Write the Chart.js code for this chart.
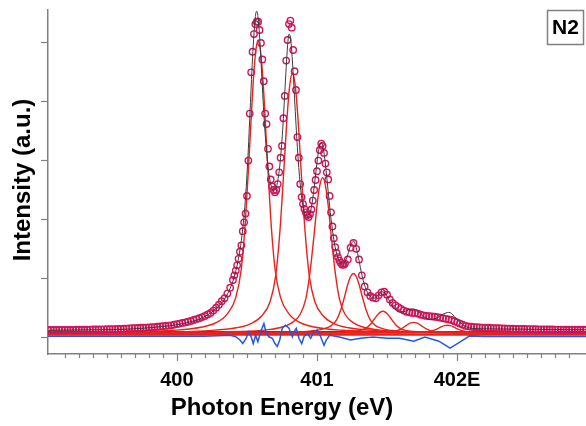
<!DOCTYPE html>
<html>
<head>
<meta charset="utf-8">
<script src="https://cdn.jsdelivr.net/npm/chart.js@4.4.1/dist/chart.umd.min.js"></script>
<style>
  html, body { margin: 0; padding: 0; background: #fff; }
  #wrap { width: 586px; height: 426px; }
</style>
</head>
<body>
<div id="wrap"><canvas id="spectrum" width="586" height="426"></canvas></div>
<script>
// Axis limits and ticks
const xMin = 399.08;
const xMax = 402.92;
const yMin = -0.288;
const yMax = 5.56;
const xMajorTicks = [400, 401, 402];
const xTickLabels = ['400', '401', '402E'];
const yTickValues = [0, 1, 2, 3, 4, 5];

// Measured spectrum (circles)
const dataEnergy = [
  399.08, 399.10, 399.12, 399.14, 399.16, 399.18, 399.20, 399.22, 399.24,
  399.26, 399.28, 399.30, 399.32, 399.34, 399.36, 399.38,
  399.40, 399.42, 399.44, 399.46, 399.48, 399.50, 399.52, 399.54, 399.56, 399.58,
  399.60, 399.62, 399.64, 399.66, 399.68, 399.70, 399.72, 399.74, 399.76, 399.78,
  399.80, 399.82, 399.84, 399.86, 399.88, 399.90, 399.92, 399.94, 399.96, 399.98,
  400.00, 400.02, 400.04, 400.06, 400.08, 400.10, 400.12, 400.14, 400.16, 400.18, 400.20, 400.22,
  400.24, 400.26, 400.28, 400.30, 400.32, 400.34, 400.36, 400.38,
  400.40, 400.41, 400.42, 400.43, 400.44, 400.45, 400.46, 400.47, 400.48, 400.49,
  400.50, 400.51, 400.52, 400.53, 400.54, 400.55, 400.56, 400.57, 400.58, 400.59,
  400.60, 400.61, 400.62, 400.63, 400.64, 400.65, 400.66, 400.67, 400.68, 400.69,
  400.70, 400.71, 400.72, 400.73, 400.74, 400.75, 400.76, 400.77, 400.78, 400.79,
  400.80, 400.81, 400.82, 400.83, 400.84, 400.85, 400.86, 400.87, 400.88, 400.89,
  400.90, 400.91, 400.92, 400.93, 400.94, 400.95, 400.96, 400.97, 400.98, 400.99,
  401.00, 401.01, 401.02, 401.03, 401.04, 401.05, 401.06, 401.07, 401.08, 401.09,
  401.10, 401.11, 401.12, 401.13, 401.14, 401.15, 401.16, 401.17, 401.18, 401.19, 401.20,
  401.22, 401.24, 401.26, 401.28, 401.30, 401.32, 401.34, 401.36, 401.38, 401.40,
  401.42, 401.44, 401.46, 401.48, 401.50, 401.52, 401.54, 401.56, 401.58, 401.60,
  401.62, 401.64, 401.66, 401.68, 401.70, 401.72, 401.74, 401.76, 401.78, 401.80,
  401.82, 401.84, 401.86, 401.88, 401.90, 401.92, 401.94, 401.96, 401.98, 402.00,
  402.02, 402.04, 402.06, 402.08,
  402.10, 402.12, 402.14, 402.16, 402.18, 402.20, 402.22, 402.24, 402.26, 402.28,
  402.30, 402.32, 402.34, 402.36, 402.38, 402.40, 402.42, 402.44, 402.46, 402.48,
  402.50, 402.52, 402.54, 402.56, 402.58, 402.60, 402.62, 402.64, 402.66, 402.68,
  402.70, 402.72, 402.74, 402.76, 402.78, 402.80, 402.82, 402.84, 402.86, 402.88,
  402.90, 402.92
];
const dataIntensity = [
  0.12, 0.12, 0.12, 0.12, 0.12, 0.12, 0.12, 0.12, 0.12,
  0.122, 0.124, 0.125, 0.125, 0.125, 0.126, 0.128,
  0.13, 0.13, 0.13, 0.131, 0.132, 0.134, 0.135, 0.135, 0.136, 0.138,
  0.14, 0.142, 0.145, 0.148, 0.15, 0.152, 0.155, 0.158, 0.16, 0.162,
  0.165, 0.168, 0.17, 0.175, 0.18, 0.185, 0.19, 0.195, 0.20, 0.21,
  0.22, 0.23, 0.24, 0.25, 0.26, 0.275, 0.29, 0.305, 0.32, 0.34, 0.36, 0.385,
  0.41, 0.45, 0.50, 0.55, 0.61, 0.66, 0.74, 0.84,
  0.97, 1.05, 1.13, 1.22, 1.33, 1.45, 1.56, 1.80, 1.95, 2.10,
  2.40, 3.00, 3.80, 4.50, 4.85, 5.15, 5.32, 5.36, 5.36, 5.22,
  5.00, 4.72, 4.35, 3.80, 3.62, 3.20, 2.90, 2.68, 2.56, 2.50,
  2.46, 2.50, 2.60, 2.80, 3.05, 3.25, 3.72, 4.10, 4.70, 5.05,
  5.32, 5.38, 5.26, 4.88, 4.52, 4.20, 3.40, 3.05, 2.60, 2.38,
  2.26, 2.18, 2.12, 2.07, 2.04, 2.09, 2.17, 2.32, 2.50, 2.67,
  2.82, 3.00, 3.18, 3.29, 3.25, 3.13, 2.95, 2.80, 2.68, 2.40,
  2.12, 1.88, 1.68, 1.53, 1.43, 1.36, 1.30, 1.26, 1.23, 1.23, 1.25,
  1.32, 1.52, 1.60, 1.50, 1.32, 1.05, 0.86, 0.76, 0.70, 0.67,
  0.66, 0.71, 0.76, 0.77, 0.72, 0.64, 0.58, 0.54, 0.51, 0.48,
  0.45, 0.43, 0.42, 0.41, 0.41, 0.40, 0.38, 0.37, 0.36, 0.355,
  0.35, 0.345, 0.34, 0.33, 0.32, 0.31, 0.30, 0.29, 0.27, 0.25,
  0.23, 0.21, 0.19, 0.18,
  0.175, 0.17, 0.168, 0.165, 0.162, 0.16, 0.158, 0.155, 0.152, 0.15,
  0.15, 0.148, 0.146, 0.145, 0.144, 0.142, 0.14, 0.14, 0.14, 0.138,
  0.136, 0.135, 0.135, 0.134, 0.132, 0.13, 0.13, 0.13, 0.13, 0.13,
  0.128, 0.128, 0.127, 0.126, 0.125, 0.125, 0.125, 0.125, 0.125, 0.125,
  0.125, 0.125
];

// Total fit (thin dark line)
const fitEnergy = [
  399.08, 399.30, 399.50, 399.70, 399.90, 400.00, 400.10, 400.20, 400.30, 400.35,
  400.40, 400.41, 400.42, 400.43, 400.44, 400.45, 400.46, 400.47, 400.48, 400.49,
  400.50, 400.51, 400.52, 400.53, 400.54, 400.55, 400.56, 400.57, 400.58, 400.59,
  400.60, 400.61, 400.62, 400.63, 400.64, 400.65, 400.66, 400.67, 400.68, 400.69,
  400.70, 400.71, 400.72, 400.73, 400.74, 400.75, 400.76, 400.77, 400.78, 400.79,
  400.80, 400.81, 400.82, 400.83, 400.84, 400.85, 400.86, 400.87, 400.88, 400.89,
  400.90, 400.91, 400.92, 400.93, 400.94, 400.95, 400.96, 400.97, 400.98, 400.99,
  401.00, 401.01, 401.02, 401.03, 401.04, 401.05, 401.06, 401.07, 401.08, 401.09, 401.10,
  401.12, 401.14, 401.16, 401.18, 401.20, 401.22, 401.24, 401.26, 401.28, 401.30,
  401.32, 401.34, 401.36, 401.38, 401.40, 401.42, 401.44, 401.46, 401.48, 401.50,
  401.52, 401.54, 401.56, 401.58, 401.60, 401.62, 401.64, 401.66, 401.68, 401.70,
  401.72, 401.74, 401.76, 401.78, 401.80, 401.82, 401.84, 401.86, 401.88, 401.90,
  401.92, 401.94, 401.96, 401.98, 402.00, 402.02, 402.04, 402.06, 402.08, 402.10,
  402.20, 402.40, 402.60, 402.80, 402.92
];
const fitIntensity = [
  0.115, 0.12, 0.125, 0.14, 0.18, 0.21, 0.26, 0.35, 0.53, 0.68,
  0.95, 1.03, 1.12, 1.22, 1.34, 1.48, 1.64, 1.84, 2.08, 2.38,
  2.75, 3.20, 3.72, 4.25, 4.75, 5.15, 5.45, 5.54, 5.42, 5.12,
  4.70, 4.25, 3.82, 3.45, 3.15, 2.90, 2.72, 2.60, 2.52, 2.49,
  2.50, 2.55, 2.66, 2.82, 3.05, 3.35, 3.72, 4.15, 4.58, 4.95,
  5.15, 5.10, 4.85, 4.48, 4.05, 3.62, 3.22, 2.88, 2.60, 2.38,
  2.22, 2.11, 2.05, 2.03, 2.05, 2.11, 2.21, 2.36, 2.55, 2.76,
  2.97, 3.15, 3.27, 3.31, 3.26, 3.13, 2.94, 2.71, 2.47, 2.23, 2.01,
  1.66, 1.42, 1.29, 1.24, 1.28, 1.40, 1.56, 1.63, 1.52, 1.30,
  1.06, 0.88, 0.76, 0.69, 0.66, 0.67, 0.72, 0.77, 0.76, 0.69,
  0.60, 0.52, 0.46, 0.43, 0.42, 0.43, 0.45, 0.47, 0.48, 0.47,
  0.44, 0.39, 0.35, 0.32, 0.30, 0.30, 0.31, 0.33, 0.36, 0.39,
  0.41, 0.42, 0.40, 0.35, 0.30, 0.25, 0.21, 0.18, 0.16, 0.15,
  0.14, 0.135, 0.13, 0.125, 0.125
];

// Vibrational components (red lines), one pair of arrays per peak
const componentEnergies = [
  [399.08, 399.58, 399.98, 400.18, 400.28, 400.36, 400.42, 400.46, 400.49, 400.52, 400.54, 400.56, 400.58,
   400.60, 400.62, 400.64, 400.67, 400.70, 400.74, 400.80, 400.88, 400.98, 401.18, 401.58, 402.08, 402.92],
  [399.08, 399.825, 400.225, 400.425, 400.525, 400.605, 400.665, 400.705, 400.735, 400.765, 400.785, 400.805, 400.825,
   400.845, 400.865, 400.885, 400.915, 400.945, 400.985, 401.045, 401.125, 401.225, 401.425, 401.825, 402.325, 402.92],
  [399.08, 400.04, 400.44, 400.64, 400.74, 400.82, 400.88, 400.92, 400.95, 400.98, 401.00, 401.02, 401.04,
   401.06, 401.08, 401.10, 401.13, 401.16, 401.20, 401.26, 401.34, 401.44, 401.64, 402.04, 402.54, 402.92],
  [399.08, 400.26, 400.66, 400.86, 400.96, 401.04, 401.10, 401.14, 401.17, 401.20, 401.22, 401.24, 401.26,
   401.28, 401.30, 401.32, 401.35, 401.38, 401.42, 401.48, 401.56, 401.66, 401.86, 402.26, 402.92],
  [399.08, 400.87, 401.07, 401.17, 401.25, 401.31, 401.35, 401.38, 401.41, 401.43, 401.45, 401.47,
   401.49, 401.51, 401.53, 401.56, 401.59, 401.63, 401.69, 401.77, 401.87, 402.07, 402.92],
  [399.08, 401.29, 401.39, 401.47, 401.53, 401.57, 401.60, 401.63, 401.65, 401.67, 401.69,
   401.71, 401.73, 401.75, 401.78, 401.81, 401.85, 401.91, 401.99, 402.09, 402.92],
  [399.08, 401.61, 401.71, 401.77, 401.81, 401.84, 401.87, 401.89, 401.91, 401.93,
   401.95, 401.97, 401.99, 402.02, 402.05, 402.09, 402.15, 402.25, 402.92]
];
const componentIntensities = [
  [0.077, 0.085, 0.115, 0.17, 0.244, 0.394, 0.67, 1.166, 2.01, 3.26, 4.15, 4.80, 5.05,
   4.80, 4.15, 3.26, 2.01, 1.166, 0.67, 0.394, 0.244, 0.17, 0.115, 0.085, 0.077, 0.073],
  [0.075, 0.083, 0.11, 0.158, 0.225, 0.357, 0.60, 1.04, 1.79, 2.90, 3.69, 4.27, 4.49,
   4.27, 3.69, 2.90, 1.79, 1.04, 0.60, 0.357, 0.225, 0.158, 0.11, 0.083, 0.076, 0.074],
  [0.072, 0.078, 0.094, 0.123, 0.162, 0.242, 0.387, 0.65, 1.10, 1.76, 2.235, 2.578, 2.71,
   2.578, 2.235, 1.76, 1.10, 0.65, 0.387, 0.242, 0.162, 0.123, 0.094, 0.078, 0.074, 0.072],
  [0.071, 0.073, 0.079, 0.09, 0.105, 0.136, 0.191, 0.292, 0.464, 0.716, 0.898, 1.03, 1.08,
   1.03, 0.898, 0.716, 0.464, 0.292, 0.191, 0.136, 0.105, 0.09, 0.079, 0.073, 0.071],
  [0.07, 0.073, 0.077, 0.083, 0.094, 0.114, 0.151, 0.214, 0.307, 0.373, 0.42, 0.44,
   0.42, 0.373, 0.307, 0.214, 0.151, 0.114, 0.094, 0.083, 0.077, 0.073, 0.07],
  [0.07, 0.074, 0.076, 0.082, 0.092, 0.11, 0.14, 0.185, 0.218, 0.241, 0.25,
   0.241, 0.218, 0.185, 0.14, 0.11, 0.092, 0.082, 0.076, 0.074, 0.07],
  [0.07, 0.074, 0.078, 0.086, 0.099, 0.121, 0.153, 0.177, 0.194, 0.20,
   0.194, 0.177, 0.153, 0.121, 0.099, 0.086, 0.078, 0.074, 0.07]
];

// Fit residual (blue)
const residualEnergy = [
  399.08, 399.60, 400.20, 400.38, 400.42, 400.45, 400.47, 400.495, 400.51, 400.53,
  400.545, 400.562, 400.578, 400.598, 400.621, 400.638, 400.657, 400.681, 400.70, 400.716,
  400.734, 400.752, 400.776, 400.80, 400.824, 400.836, 400.852, 400.871, 400.891, 400.907,
  400.931, 400.955, 400.979, 401.002, 401.026, 401.05, 401.066, 401.09, 401.16, 401.24,
  401.31, 401.40, 401.50, 401.59, 401.69, 401.77, 401.87, 401.95, 402.03, 402.09,
  402.20, 402.92
];
const residualIntensity = [
  0.015, 0.015, 0.015, 0.03, 0.005, -0.05, -0.11, -0.02, 0.09, 0.005,
  -0.11, 0.03, -0.08, 0.09, 0.23, 0.06, 0.005, -0.02, -0.11, -0.16,
  -0.05, 0.15, 0.20, 0.15, 0.005, 0.09, 0.15, -0.02, -0.11, 0.005,
  0.06, -0.02, 0.09, 0.12, 0.005, -0.14, -0.05, 0.03, 0.0, -0.05,
  -0.02, 0.0, -0.02, -0.02, -0.07, 0.0, -0.07, -0.19, -0.07, 0.02,
  0.01, 0.01
];

// Flat background levels
const baselineEnergy = [399.08, 402.92];
const blackBaseline = [0.085, 0.085];
const redBaseline = [0.045, 0.045];

const axisGrey = '#808080';
const fontFamily = '"Liberation Sans", Arial, Helvetica, sans-serif';

function toPoints(xs, ys) {
  return xs.map((x, i) => ({ x: x, y: ys[i] }));
}

function lineSet(label, xs, ys, color, width, smooth) {
  return {
    label: label,
    data: toPoints(xs, ys),
    showLine: true,
    borderColor: color,
    backgroundColor: color,
    borderWidth: width,
    pointRadius: 0,
    fill: false,
    tension: 0,
    cubicInterpolationMode: smooth ? 'monotone' : 'default'
  };
}

const componentSets = componentEnergies.map((xs, i) =>
  lineSet('Peak ' + (i + 1), xs, componentIntensities[i], '#e8221c', 1.4, true));

const datasets = [
  lineSet('Fit', fitEnergy, fitIntensity, '#3a3a3a', 1, true),
  {
    label: 'Data',
    data: toPoints(dataEnergy, dataIntensity),
    showLine: false,
    pointStyle: 'circle',
    pointRadius: 3.2,
    borderColor: '#d0155a',
    backgroundColor: 'rgba(255,255,255,0)',
    borderWidth: 1.4
  },
  lineSet('Residual', residualEnergy, residualIntensity, '#2457e6', 1.5, false),
  ...componentSets,
  lineSet('Baseline', baselineEnergy, blackBaseline, '#000000', 1.4, false),
  lineSet('Background', baselineEnergy, redBaseline, '#e8221c', 2.5, false)
];

// Minor/major x ticks, axis titles and the N2 tag
const decorPlugin = {
  id: 'decor',
  afterDraw(chart) {
    const { ctx, chartArea } = chart;
    const xScale = chart.scales.x;
    ctx.save();

    ctx.strokeStyle = axisGrey;
    ctx.lineWidth = 1.2;
    xScale.ticks.forEach(t => {
      const tenth = Math.round(t.value * 10);
      if (Math.abs(t.value * 10 - tenth) > 1e-6) return;
      const major = tenth % 10 === 0;
      const px = Math.round(xScale.getPixelForValue(t.value)) + 0.5;
      ctx.beginPath();
      ctx.moveTo(px, chartArea.bottom);
      ctx.lineTo(px, chartArea.bottom + (major ? 7 : 4));
      ctx.stroke();
    });

    ctx.fillStyle = '#000';
    ctx.font = 'bold 24px ' + fontFamily;
    ctx.textAlign = 'center';
    ctx.textBaseline = 'middle';
    ctx.fillText('Photon Energy (eV)', 282, 408);

    ctx.save();
    ctx.translate(23, 180);
    ctx.rotate(-Math.PI / 2);
    ctx.fillText('Intensity (a.u.)', 0, 0);
    ctx.restore();

    ctx.fillStyle = '#fff';
    ctx.fillRect(547, 10, 37, 35);
    ctx.strokeStyle = axisGrey;
    ctx.lineWidth = 1.5;
    ctx.strokeRect(547.5, 10.5, 36, 34);
    ctx.fillStyle = '#000';
    ctx.font = 'bold 21px ' + fontFamily;
    ctx.fillText('N2', 565.5, 28.5);

    ctx.restore();
  }
};

new Chart(document.getElementById('spectrum'), {
  type: 'scatter',
  data: { datasets: datasets },
  options: {
    responsive: false,
    animation: false,
    devicePixelRatio: 1,
    layout: { autoPadding: false, padding: { left: 41, right: 0, top: 10, bottom: 34 } },
    plugins: {
      legend: { display: false },
      tooltip: { enabled: false }
    },
    scales: {
      x: {
        type: 'linear',
        min: xMin,
        max: xMax,
        border: { display: true, color: axisGrey, width: 1.5 },
        grid: { drawOnChartArea: false, drawTicks: true, tickLength: 14, tickColor: 'rgba(0,0,0,0)' },
        ticks: {
          stepSize: 0.1,
          autoSkip: false,
          maxRotation: 0,
          minRotation: 0,
          padding: 0,
          color: '#000',
          font: { family: fontFamily, size: 20, weight: 'bold' },
          callback: function(value) {
            const i = xMajorTicks.findIndex(m => Math.abs(m - value) < 1e-6);
            return i >= 0 ? xTickLabels[i] : '';
          }
        }
      },
      y: {
        type: 'linear',
        min: yMin,
        max: yMax,
        border: { display: true, color: axisGrey, width: 1.5 },
        grid: { drawOnChartArea: false, drawTicks: true, tickLength: 7, tickColor: axisGrey, tickWidth: 1.2 },
        ticks: { display: false },
        afterBuildTicks: function(axis) {
          axis.ticks = yTickValues.map(v => ({ value: v }));
        }
      }
    }
  },
  plugins: [decorPlugin]
});
</script>
</body>
</html>
